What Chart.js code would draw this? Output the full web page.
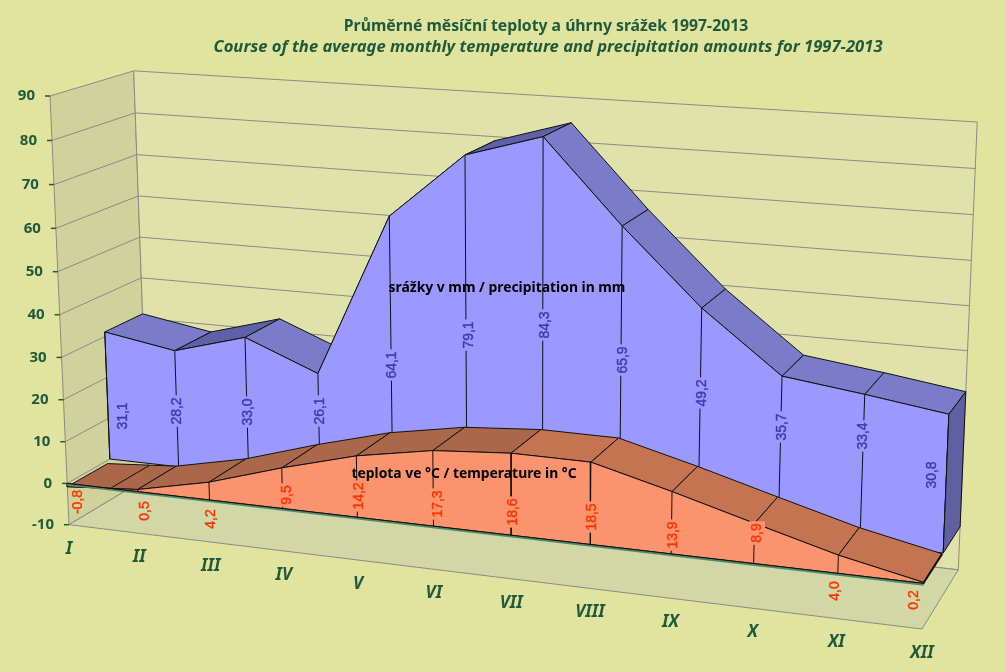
<!DOCTYPE html>
<html>
<head>
<meta charset="utf-8">
<style>
  html, body { margin: 0; padding: 0; background: #e1e49f; }
  canvas { display: block; }
</style>
<script src="https://cdn.jsdelivr.net/npm/chart.js@4"></script>
</head>
<body>
<canvas id="chart" width="1006" height="672"></canvas>
<script>
const months = ["I", "II", "III", "IV", "V", "VI", "VII", "VIII", "IX", "X", "XI", "XII"];
const precipitation = [31.1, 28.2, 33.0, 26.1, 64.1, 79.1, 84.3, 65.9, 49.2, 35.7, 33.4, 30.8];
const temperature = [-0.8, 0.5, 4.2, 9.5, 14.2, 17.3, 18.6, 18.5, 13.9, 8.9, 4.0, 0.2];
const valueTicks = [90, 80, 70, 60, 50, 40, 30, 20, 10, 0, -10];

// where the value labels sit on the page
const precipLabelSpots = [[123, 416], [177, 411], [248, 412], [320, 411], [392, 365], [469, 335], [545, 325], [623, 360], [702, 393], [782, 427], [863, 436], [932, 475]];
const tempLabelSpots = [[78, 502], [145, 511], [211, 519], [287, 495], [359, 496], [438, 504], [513, 512], [592, 517], [673, 535], [757, 533], [835, 591], [914, 600]];

const GREEN = "#1f5a3c";
const GRID = "#8b8b86";

// perspective of the 3d box: u along months, t up the value axis, w into the depth
const ORIGIN = [69, 524.7];
const U_END = [922, 629];
const T_END = [50, 96];
const W_END = [148.5, 477];
const G_U = -0.103, G_T = -0.04, G_W = 0.058;

function project(monthIdx, value, depth) {
  const u = monthIdx / (months.length - 1);
  const t = (value + 10) / 100;
  const d = 1 + G_U * u + G_T * t + G_W * depth;
  const at = (k) => (ORIGIN[k]
    + (U_END[k] * (1 + G_U) - ORIGIN[k]) * u
    + (T_END[k] * (1 + G_T) - ORIGIN[k]) * t
    + (W_END[k] * (1 + G_W) - ORIGIN[k]) * depth) / d;
  return { x: at(0), y: at(1) };
}

const datasets = [];

function addShape(points, fill, stroke, width) {
  datasets.push({
    data: fill ? points.concat([points[0]]) : points,
    fill: fill ? "shape" : false,
    backgroundColor: fill || "transparent",
    borderColor: stroke || fill,
    borderWidth: width === undefined ? 1 : width,
    pointRadius: 0,
    tension: 0,
    showLine: true
  });
}

const last = months.length - 1;

// walls and floor
addShape([project(0, -10, 0), project(0, 90, 0), project(0, 90, 1), project(0, -10, 1)], "#d0d29b", GRID);
addShape([project(0, -10, 1), project(0, 90, 1), project(last, 90, 1), project(last, -10, 1)], "#dfe3aa", GRID);
addShape([project(0, -10, 0), project(0, -10, 1), project(last, -10, 1), project(last, -10, 0)], "#d1d7a5", GRID);
valueTicks.forEach((v) => {
  if (v === 90 || v === -10) return;
  addShape([project(0, v, 0), project(0, v, 1), project(last, v, 1)], null, GRID);
});

// one band of the 3d area: top faces first, then the front
function addBand(values, front, back, faceColor, riseColor, fallColor) {
  for (let i = 0; i < last; i++) {
    const color = values[i + 1] > values[i] ? riseColor : fallColor;
    addShape([project(i, values[i], front), project(i + 1, values[i + 1], front),
      project(i + 1, values[i + 1], back), project(i, values[i], back)], color, "#111111");
    // the surface breaks where the series crosses zero
    if (values[i] * values[i + 1] < 0) {
      const cross = i + values[i] / (values[i] - values[i + 1]);
      addShape([project(cross, 0, front), project(cross, 0, back)], null, "#111111");
    }
  }
  const outline = values.map((v, i) => project(i, v, front));
  addShape(outline.concat([project(last, 0, front), project(0, 0, front)]), faceColor, "#111111");
  values.forEach((v, i) => {
    addShape([project(i, v, front), project(i, 0, front)], null, "#111111");
  });
}

addBand(precipitation, 0.52, 1, "#9999ff", "#6060a8", "#7b7bc9");
addShape([project(last, 0, 0.52), project(last, precipitation[last], 0.52),
  project(last, precipitation[last], 1), project(last, 0, 1)], "#6060a0", "#111111");

addBand(temperature, 0, 0.49, "#fb946e", "#ab674a", "#c57452");
addShape([project(last, temperature[last], 0), project(last, temperature[last], 0.49)], null, "#111111", 2);

// value axis line along the front
addShape([project(0, -0.3, 0), project(last, -0.3, 0)], null, "#4f8a68", 2);
addShape([project(0, 0, 0), project(last, 0, 0)], null, "#111111", 1);

// ticks
valueTicks.forEach((v) => {
  const p = project(0, v, 0);
  addShape([{ x: p.x - 5, y: p.y }, p], null, GREEN, 1.5);
});

function rotatedLabel(ctx, text, spot, color, behind) {
  ctx.save();
  ctx.translate(spot[0], spot[1]);
  ctx.rotate(-Math.PI / 2);
  ctx.font = "14px 'Liberation Sans'";
  if (behind) {
    ctx.fillStyle = behind;
    const w = ctx.measureText(text).width;
    ctx.fillRect(-w / 2 - 2, -8, w + 4, 16);
  }
  ctx.fillStyle = color;
  ctx.strokeStyle = color;
  ctx.lineWidth = 0.4;
  ctx.textAlign = "center";
  ctx.textBaseline = "middle";
  ctx.fillText(text, 0, 0);
  ctx.strokeText(text, 0, 0);
  ctx.restore();
}

const pageText = {
  id: "pageText",
  beforeDraw(chart) {
    const ctx = chart.ctx;
    ctx.fillStyle = "#e1e49f";
    ctx.fillRect(0, 0, chart.width, chart.height);
  },
  afterDatasetsDraw(chart) {
    const ctx = chart.ctx;
    const sx = chart.scales.x, sy = chart.scales.y;
    const toPx = (p) => ({ x: sx.getPixelForValue(p.x), y: sy.getPixelForValue(p.y) });
    ctx.save();
    ctx.textBaseline = "middle";

    ctx.fillStyle = GREEN;
    ctx.textAlign = "center";
    ctx.font = "bold 15.75px 'Noto Sans'";
    ctx.fillText("Průměrné měsíční teploty a úhrny srážek 1997-2013", 546, 27);
    ctx.font = "italic bold 16.6px 'Noto Sans'";
    ctx.fillText("Course of the average monthly temperature and precipitation amounts for 1997-2013", 548, 47);

    ctx.textAlign = "right";
    ctx.font = "bold 15px 'Noto Sans'";
    valueTicks.forEach((v) => {
      const p = toPx(project(0, v, 0));
      ctx.fillText(String(v), p.x - 15, p.y);
    });

    ctx.textAlign = "center";
    ctx.font = "italic bold 17px 'Noto Sans'";
    months.forEach((m, i) => {
      const p = toPx(project(i, -10, 0));
      ctx.fillText(m, p.x, p.y + 24);
    });

    ctx.fillStyle = "#000000";
    ctx.font = "bold 13.9px 'Noto Sans'";
    ctx.fillText("srážky v mm / precipitation in mm", 507, 288);
    ctx.fillText("teplota ve °C / temperature in °C", 464, 474);
    ctx.restore();

    precipitation.forEach((v, i) => {
      rotatedLabel(ctx, v.toFixed(1).replace(".", ","), precipLabelSpots[i], "#3c3cb0", "#9999ff");
    });
    temperature.forEach((v, i) => {
      const onFace = i >= 3 && i <= 9;
      rotatedLabel(ctx, v.toFixed(1).replace(".", ","), tempLabelSpots[i], "#ff3300", onFace ? "#fb946e" : null);
    });
  }
};

datasets.reverse(); // chart.js paints the first dataset last

new Chart(document.getElementById("chart"), {
  type: "scatter",
  data: { datasets: datasets },
  options: {
    responsive: false,
    animation: false,
    events: [],
    layout: { padding: 0 },
    scales: {
      x: { type: "linear", display: false, min: 0, max: 1006 },
      y: { type: "linear", display: false, min: 0, max: 672, reverse: true }
    },
    plugins: { legend: { display: false }, tooltip: { enabled: false } }
  },
  plugins: [pageText]
});
</script>
</body>
</html>
